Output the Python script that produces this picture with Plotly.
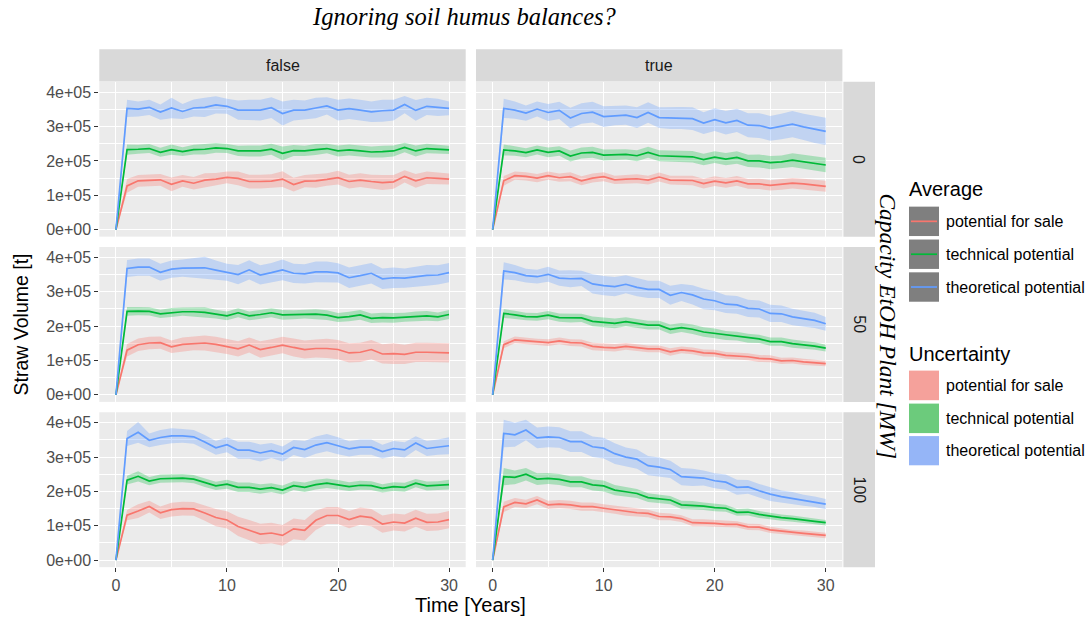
import plotly.graph_objects as go

W, H = 1092, 620
UNIT = 1e5  # values below are stored in units of 1e+05 t

YEARS = list(range(31))
COLUMNS = ["false", "true"]
ROWS = ["0", "50", "100"]
SERIES = ["potential for sale", "technical potential", "theoretical potential"]
LINE_COLORS = ["#F8766D", "#00BA38", "#619CFF"]
RIBBON_COLORS = ["rgba(248,118,109,0.30)", "rgba(0,186,56,0.28)", "rgba(97,156,255,0.30)"]
KEY_FILLS = ["#F5A19B", "#6CCB7C", "#95B5F7"]
Y_TICKS = [0, 1, 2, 3, 4]
Y_TICK_LABELS = ["0e+00", "1e+05", "2e+05", "3e+05", "4e+05"]
Y_MINOR = [0.5, 1.5, 2.5, 3.5]
X_TICKS = [0, 10, 20, 30]
X_TICK_LABELS = ["0", "10", "20", "30"]
X_MINOR = [5, 15, 25]

# ---- averages (1e5 t) ----
F0_SALE = [0, 1.27, 1.42, 1.43, 1.45, 1.32, 1.42, 1.35, 1.44, 1.47, 1.52, 1.49, 1.40, 1.40, 1.41, 1.47, 1.31, 1.41, 1.42, 1.46, 1.51, 1.40, 1.44, 1.40, 1.37, 1.39, 1.55, 1.42, 1.51, 1.49, 1.47]
F0_TECH = [0, 2.33, 2.34, 2.36, 2.25, 2.33, 2.27, 2.33, 2.34, 2.38, 2.36, 2.29, 2.29, 2.29, 2.34, 2.22, 2.30, 2.29, 2.33, 2.36, 2.29, 2.32, 2.29, 2.26, 2.27, 2.29, 2.39, 2.29, 2.36, 2.34, 2.32]
F0_THEO = [0, 3.53, 3.51, 3.56, 3.42, 3.54, 3.44, 3.54, 3.56, 3.63, 3.59, 3.48, 3.48, 3.48, 3.55, 3.38, 3.48, 3.48, 3.54, 3.60, 3.48, 3.52, 3.48, 3.43, 3.46, 3.48, 3.64, 3.47, 3.59, 3.56, 3.53]

T0_SALE = [0, 1.42, 1.57, 1.55, 1.50, 1.57, 1.51, 1.54, 1.42, 1.50, 1.54, 1.45, 1.47, 1.48, 1.44, 1.53, 1.44, 1.44, 1.43, 1.34, 1.41, 1.36, 1.42, 1.33, 1.33, 1.29, 1.31, 1.35, 1.33, 1.29, 1.26]
T0_TECH = [0, 2.32, 2.29, 2.24, 2.32, 2.25, 2.29, 2.14, 2.23, 2.25, 2.17, 2.18, 2.19, 2.15, 2.25, 2.15, 2.14, 2.14, 2.12, 2.04, 2.11, 2.05, 2.10, 2.00, 2.00, 1.95, 1.97, 2.02, 1.97, 1.92, 1.88]
T0_THEO = [0, 3.53, 3.48, 3.39, 3.51, 3.41, 3.47, 3.25, 3.38, 3.42, 3.29, 3.32, 3.33, 3.26, 3.41, 3.26, 3.25, 3.25, 3.23, 3.10, 3.20, 3.11, 3.18, 3.04, 3.03, 2.95, 3.00, 3.07, 2.99, 2.92, 2.86]

F50_SALE = [0, 1.30, 1.46, 1.51, 1.52, 1.40, 1.47, 1.50, 1.51, 1.47, 1.41, 1.34, 1.45, 1.32, 1.38, 1.45, 1.38, 1.32, 1.35, 1.35, 1.32, 1.22, 1.24, 1.32, 1.19, 1.20, 1.18, 1.24, 1.24, 1.24, 1.22]
F50_TECH = [0, 2.43, 2.44, 2.43, 2.36, 2.40, 2.42, 2.42, 2.40, 2.35, 2.30, 2.39, 2.30, 2.34, 2.39, 2.33, 2.33, 2.35, 2.35, 2.32, 2.25, 2.28, 2.33, 2.23, 2.25, 2.24, 2.26, 2.29, 2.30, 2.27, 2.34]
F50_THEO = [0, 3.68, 3.72, 3.72, 3.57, 3.66, 3.69, 3.70, 3.70, 3.63, 3.57, 3.50, 3.64, 3.49, 3.56, 3.64, 3.54, 3.52, 3.58, 3.58, 3.55, 3.41, 3.47, 3.54, 3.38, 3.41, 3.40, 3.44, 3.48, 3.49, 3.56]

T50_SALE = [0, 1.46, 1.60, 1.57, 1.54, 1.52, 1.57, 1.52, 1.51, 1.41, 1.38, 1.37, 1.41, 1.37, 1.34, 1.34, 1.25, 1.31, 1.28, 1.22, 1.21, 1.15, 1.13, 1.11, 1.06, 1.05, 0.99, 1.00, 0.96, 0.93, 0.91]
T50_TECH = [0, 2.37, 2.33, 2.28, 2.27, 2.32, 2.25, 2.24, 2.24, 2.14, 2.11, 2.08, 2.13, 2.07, 2.03, 2.03, 1.91, 1.96, 1.91, 1.83, 1.79, 1.73, 1.71, 1.65, 1.63, 1.55, 1.55, 1.49, 1.46, 1.42, 1.36]
T50_THEO = [0, 3.61, 3.56, 3.47, 3.44, 3.51, 3.40, 3.38, 3.39, 3.23, 3.18, 3.15, 3.22, 3.13, 3.07, 3.07, 2.90, 2.98, 2.91, 2.79, 2.74, 2.64, 2.62, 2.52, 2.50, 2.37, 2.36, 2.27, 2.22, 2.17, 2.07]

F100_SALE = [0, 1.31, 1.43, 1.56, 1.38, 1.47, 1.50, 1.49, 1.37, 1.24, 1.17, 0.98, 0.87, 0.76, 0.79, 0.72, 0.91, 0.87, 1.16, 1.30, 1.30, 1.18, 1.28, 1.24, 1.05, 1.11, 1.08, 1.22, 1.10, 1.11, 1.18]
F100_TECH = [0, 2.33, 2.44, 2.30, 2.37, 2.39, 2.39, 2.36, 2.25, 2.16, 2.21, 2.12, 2.12, 2.07, 2.11, 2.04, 2.17, 2.12, 2.20, 2.24, 2.19, 2.14, 2.18, 2.17, 2.09, 2.14, 2.12, 2.24, 2.16, 2.17, 2.20]
F100_THEO = [0, 3.54, 3.72, 3.49, 3.57, 3.62, 3.62, 3.59, 3.44, 3.27, 3.36, 3.20, 3.20, 3.12, 3.19, 3.09, 3.28, 3.22, 3.35, 3.42, 3.33, 3.24, 3.29, 3.29, 3.16, 3.25, 3.21, 3.41, 3.25, 3.29, 3.33]

T100_SALE = [0, 1.55, 1.68, 1.64, 1.75, 1.61, 1.63, 1.61, 1.56, 1.56, 1.51, 1.47, 1.41, 1.38, 1.36, 1.27, 1.26, 1.21, 1.09, 1.09, 1.07, 1.04, 1.04, 0.97, 0.96, 0.88, 0.84, 0.80, 0.78, 0.75, 0.72]
T100_TECH = [0, 2.43, 2.41, 2.50, 2.36, 2.38, 2.35, 2.28, 2.28, 2.19, 2.16, 2.04, 1.99, 1.94, 1.82, 1.78, 1.75, 1.61, 1.60, 1.57, 1.53, 1.51, 1.39, 1.40, 1.33, 1.28, 1.24, 1.21, 1.18, 1.13, 1.09]
T100_THEO = [0, 3.69, 3.65, 3.79, 3.56, 3.59, 3.57, 3.45, 3.45, 3.30, 3.26, 3.10, 3.00, 2.94, 2.75, 2.71, 2.64, 2.43, 2.41, 2.39, 2.31, 2.27, 2.12, 2.13, 2.02, 1.92, 1.85, 1.80, 1.74, 1.70, 1.63]

# ---- uncertainty half-widths (1e5 t) ----
F0_SALE_HW = [0, 0.20, 0.17, 0.17, 0.17, 0.20, 0.17, 0.18, 0.20, 0.18, 0.17, 0.20, 0.20, 0.20, 0.20, 0.23, 0.20, 0.18, 0.20, 0.18, 0.20, 0.20, 0.20, 0.20, 0.22, 0.20, 0.18, 0.20, 0.18, 0.18, 0.16]
F0_TECH_HW = [0, 0.15, 0.13, 0.13, 0.13, 0.15, 0.13, 0.14, 0.15, 0.14, 0.13, 0.15, 0.16, 0.16, 0.16, 0.20, 0.16, 0.15, 0.16, 0.14, 0.16, 0.16, 0.16, 0.16, 0.17, 0.16, 0.14, 0.16, 0.14, 0.14, 0.12]
F0_THEO_HW = [0, 0.25, 0.22, 0.22, 0.22, 0.30, 0.22, 0.25, 0.28, 0.25, 0.22, 0.28, 0.30, 0.30, 0.30, 0.35, 0.30, 0.28, 0.30, 0.25, 0.30, 0.30, 0.30, 0.30, 0.32, 0.30, 0.25, 0.30, 0.25, 0.25, 0.20]

T0_SALE_HW = [0, 0.14, 0.12, 0.12, 0.12, 0.12, 0.12, 0.13, 0.13, 0.13, 0.13, 0.12, 0.12, 0.13, 0.13, 0.13, 0.13, 0.13, 0.14, 0.14, 0.14, 0.14, 0.14, 0.14, 0.15, 0.15, 0.15, 0.15, 0.15, 0.16, 0.16]
T0_TECH_HW = [0, 0.16, 0.14, 0.13, 0.13, 0.14, 0.14, 0.16, 0.16, 0.16, 0.16, 0.15, 0.15, 0.16, 0.16, 0.16, 0.17, 0.17, 0.17, 0.17, 0.17, 0.18, 0.18, 0.18, 0.19, 0.19, 0.19, 0.20, 0.20, 0.21, 0.21]
T0_THEO_HW = [0, 0.28, 0.25, 0.22, 0.22, 0.25, 0.25, 0.30, 0.30, 0.30, 0.30, 0.28, 0.28, 0.30, 0.30, 0.30, 0.32, 0.32, 0.33, 0.32, 0.33, 0.34, 0.34, 0.35, 0.36, 0.36, 0.37, 0.38, 0.38, 0.40, 0.40]

F50_SALE_HW = [0, 0.18, 0.18, 0.18, 0.18, 0.18, 0.20, 0.20, 0.22, 0.22, 0.22, 0.22, 0.22, 0.24, 0.24, 0.24, 0.26, 0.26, 0.26, 0.28, 0.28, 0.28, 0.28, 0.28, 0.28, 0.30, 0.28, 0.28, 0.28, 0.28, 0.28]
F50_TECH_HW = [0, 0.13, 0.12, 0.12, 0.12, 0.13, 0.12, 0.13, 0.15, 0.13, 0.13, 0.13, 0.13, 0.13, 0.13, 0.14, 0.13, 0.13, 0.14, 0.14, 0.13, 0.14, 0.14, 0.14, 0.14, 0.14, 0.13, 0.14, 0.14, 0.13, 0.13]
F50_THEO_HW = [0, 0.25, 0.25, 0.25, 0.25, 0.25, 0.25, 0.28, 0.32, 0.28, 0.25, 0.28, 0.28, 0.28, 0.28, 0.30, 0.28, 0.28, 0.30, 0.30, 0.28, 0.30, 0.30, 0.30, 0.30, 0.30, 0.28, 0.30, 0.30, 0.28, 0.28]

T50_SALE_HW = [0, 0.10, 0.10, 0.09, 0.09, 0.10, 0.10, 0.10, 0.10, 0.11, 0.11, 0.11, 0.10, 0.10, 0.10, 0.10, 0.11, 0.10, 0.10, 0.10, 0.10, 0.10, 0.10, 0.10, 0.10, 0.10, 0.09, 0.09, 0.09, 0.09, 0.08]
T50_TECH_HW = [0, 0.13, 0.12, 0.11, 0.11, 0.12, 0.12, 0.13, 0.12, 0.14, 0.14, 0.14, 0.13, 0.13, 0.13, 0.13, 0.14, 0.13, 0.14, 0.14, 0.14, 0.13, 0.13, 0.13, 0.12, 0.12, 0.12, 0.12, 0.12, 0.11, 0.10]
T50_THEO_HW = [0, 0.25, 0.22, 0.20, 0.20, 0.22, 0.22, 0.25, 0.22, 0.28, 0.28, 0.28, 0.26, 0.26, 0.25, 0.25, 0.28, 0.25, 0.28, 0.30, 0.28, 0.26, 0.26, 0.25, 0.25, 0.25, 0.24, 0.24, 0.24, 0.22, 0.20]

F100_SALE_HW = [0, 0.15, 0.20, 0.17, 0.18, 0.20, 0.20, 0.20, 0.22, 0.25, 0.25, 0.28, 0.30, 0.30, 0.30, 0.30, 0.30, 0.30, 0.28, 0.25, 0.25, 0.25, 0.25, 0.25, 0.25, 0.25, 0.25, 0.25, 0.25, 0.25, 0.25]
F100_TECH_HW = [0, 0.13, 0.15, 0.12, 0.12, 0.12, 0.12, 0.12, 0.12, 0.12, 0.13, 0.14, 0.14, 0.14, 0.13, 0.13, 0.13, 0.14, 0.14, 0.14, 0.14, 0.13, 0.13, 0.13, 0.12, 0.13, 0.13, 0.12, 0.13, 0.13, 0.14]
F100_THEO_HW = [0, 0.22, 0.30, 0.20, 0.22, 0.22, 0.20, 0.20, 0.20, 0.20, 0.22, 0.25, 0.25, 0.25, 0.22, 0.22, 0.22, 0.25, 0.25, 0.25, 0.25, 0.22, 0.22, 0.22, 0.20, 0.22, 0.22, 0.20, 0.22, 0.22, 0.25]

T100_SALE_HW = [0, 0.15, 0.13, 0.12, 0.12, 0.12, 0.12, 0.12, 0.12, 0.12, 0.12, 0.12, 0.12, 0.11, 0.11, 0.11, 0.10, 0.10, 0.10, 0.10, 0.10, 0.09, 0.09, 0.09, 0.09, 0.09, 0.08, 0.08, 0.08, 0.08, 0.08]
T100_TECH_HW = [0, 0.25, 0.20, 0.18, 0.17, 0.16, 0.16, 0.16, 0.16, 0.16, 0.16, 0.15, 0.14, 0.13, 0.13, 0.13, 0.12, 0.12, 0.12, 0.11, 0.11, 0.10, 0.10, 0.10, 0.10, 0.09, 0.09, 0.09, 0.08, 0.08, 0.08]
T100_THEO_HW = [0, 0.40, 0.35, 0.30, 0.30, 0.30, 0.30, 0.30, 0.30, 0.30, 0.30, 0.30, 0.28, 0.28, 0.28, 0.28, 0.25, 0.25, 0.25, 0.22, 0.22, 0.22, 0.22, 0.20, 0.20, 0.20, 0.18, 0.18, 0.16, 0.15, 0.15]

PANELS = {
    ("false", "0"): ([F0_SALE, F0_TECH, F0_THEO], [F0_SALE_HW, F0_TECH_HW, F0_THEO_HW]),
    ("true", "0"): ([T0_SALE, T0_TECH, T0_THEO], [T0_SALE_HW, T0_TECH_HW, T0_THEO_HW]),
    ("false", "50"): ([F50_SALE, F50_TECH, F50_THEO], [F50_SALE_HW, F50_TECH_HW, F50_THEO_HW]),
    ("true", "50"): ([T50_SALE, T50_TECH, T50_THEO], [T50_SALE_HW, T50_TECH_HW, T50_THEO_HW]),
    ("false", "100"): ([F100_SALE, F100_TECH, F100_THEO], [F100_SALE_HW, F100_TECH_HW, F100_THEO_HW]),
    ("true", "100"): ([T100_SALE, T100_TECH, T100_THEO], [T100_SALE_HW, T100_TECH_HW, T100_THEO_HW]),
}

# ---- geometry (pixels) ----
COL_X = [(99.3, 465.7), (476.0, 842.4)]
ROW_Y = [(82.0, 237.4), (247.8, 403.2), (413.6, 569.0)]
STRIP_TOP = (49.3, 81.7)
STRIP_RIGHT = (843.4, 875.0)
X_RANGE = [-1.5, 31.5]
Y_RANGE = [-0.205 * UNIT, 4.305 * UNIT]

SANS = "Liberation Sans, Arial, sans-serif"
SERIF = "Liberation Serif, Times New Roman, serif"


def px(x):
    return x / W


def py(y):
    return 1 - y / H


fig = go.Figure()
layout = {}
annotations = []
shapes = []

for i, row in enumerate(ROWS):
    for j, col in enumerate(COLUMNS):
        k = i * 2 + j + 1
        xa = "x" if k == 1 else f"x{k}"
        ya = "y" if k == 1 else f"y{k}"
        means, hws = PANELS[(col, row)]
        for s in range(3):
            upper = [(m + h) * UNIT for m, h in zip(means[s], hws[s])]
            lower = [(m - h) * UNIT for m, h in zip(means[s], hws[s])]
            fig.add_trace(go.Scatter(
                x=YEARS + YEARS[::-1], y=upper + lower[::-1],
                fill="toself", fillcolor=RIBBON_COLORS[s], line=dict(width=0),
                mode="lines", hoverinfo="skip", showlegend=False, xaxis=xa, yaxis=ya))
        for s in range(3):
            fig.add_trace(go.Scatter(
                x=YEARS, y=[m * UNIT for m in means[s]], mode="lines",
                line=dict(color=LINE_COLORS[s], width=1.7), name=SERIES[s],
                showlegend=False, xaxis=xa, yaxis=ya))

        x0, x1 = COL_X[j]
        y0, y1 = ROW_Y[i]
        bottom = i == len(ROWS) - 1
        left = j == 0
        layout["xaxis" if k == 1 else f"xaxis{k}"] = dict(
            domain=[px(x0), px(x1)], anchor=ya, range=X_RANGE,
            tickmode="array", tickvals=X_TICKS, ticktext=X_TICK_LABELS,
            showticklabels=bottom, ticks="outside" if bottom else "",
            ticklen=4, tickwidth=1.1, tickcolor="#333333",
            tickfont=dict(family=SANS, size=16, color="#4D4D4D"),
            showgrid=True, gridcolor="#FFFFFF", gridwidth=1.2, zeroline=False, showline=False,
            minor=dict(tickvals=X_MINOR, showgrid=True, gridcolor="#FFFFFF", gridwidth=0.6, ticks=""),
            fixedrange=True)
        layout["yaxis" if k == 1 else f"yaxis{k}"] = dict(
            domain=[py(y1), py(y0)], anchor=xa, range=Y_RANGE,
            tickmode="array", tickvals=[t * UNIT for t in Y_TICKS], ticktext=Y_TICK_LABELS,
            showticklabels=left, ticks="outside" if left else "",
            ticklen=4, tickwidth=1.1, tickcolor="#333333",
            tickfont=dict(family=SANS, size=16, color="#4D4D4D"),
            showgrid=True, gridcolor="#FFFFFF", gridwidth=1.2, zeroline=False, showline=False,
            minor=dict(tickvals=[t * UNIT for t in Y_MINOR], showgrid=True, gridcolor="#FFFFFF",
                       gridwidth=0.6, ticks=""),
            fixedrange=True)

# column strips
for j, col in enumerate(COLUMNS):
    x0, x1 = COL_X[j]
    shapes.append(dict(type="rect", xref="paper", yref="paper", x0=px(x0), x1=px(x1),
                       y0=py(STRIP_TOP[1]), y1=py(STRIP_TOP[0]), fillcolor="#D9D9D9", line=dict(width=0)))
    annotations.append(dict(text=col, xref="paper", yref="paper", x=px((x0 + x1) / 2),
                            y=py(sum(STRIP_TOP) / 2), showarrow=False, xanchor="center", yanchor="middle",
                            font=dict(family=SANS, size=16, color="#1A1A1A")))
# row strips
for i, row in enumerate(ROWS):
    y0, y1 = ROW_Y[i]
    shapes.append(dict(type="rect", xref="paper", yref="paper", x0=px(STRIP_RIGHT[0]), x1=px(STRIP_RIGHT[1]),
                       y0=py(y1), y1=py(y0), fillcolor="#D9D9D9", line=dict(width=0)))
    annotations.append(dict(text=row, xref="paper", yref="paper", x=px(sum(STRIP_RIGHT) / 2),
                            y=py((y0 + y1) / 2), showarrow=False, xanchor="center", yanchor="middle",
                            textangle=90, font=dict(family=SANS, size=16, color="#1A1A1A")))

mid_x = (COL_X[0][0] + COL_X[1][1]) / 2
mid_y = (ROW_Y[0][0] + ROW_Y[2][1]) / 2
annotations += [
    dict(text="Ignoring soil humus balances?", xref="paper", yref="paper", x=px(mid_x - 6), y=py(17),
         showarrow=False, xanchor="center", yanchor="middle",
         font=dict(family=SERIF, size=24.5, color="#000000", style="italic")),
    dict(text="Capacity EtOH Plant [MW]", xref="paper", yref="paper", x=px(888), y=py(mid_y + 2),
         showarrow=False, xanchor="center", yanchor="middle", textangle=90,
         font=dict(family=SERIF, size=23.5, color="#000000", style="italic")),
    dict(text="Straw Volume [t]", xref="paper", yref="paper", x=px(21), y=py(mid_y),
         showarrow=False, xanchor="center", yanchor="middle", textangle=-90,
         font=dict(family=SANS, size=19.5, color="#000000")),
    dict(text="Time [Years]", xref="paper", yref="paper", x=px(mid_x), y=py(607),
         showarrow=False, xanchor="center", yanchor="middle",
         font=dict(family=SANS, size=20, color="#000000")),
]

# ---- legends (drawn manually, ggplot-like keys) ----
KEY_X = (909.0, 939.0)
LABEL_X = 944.0
AVG_KEYS = [(207.3, 236.8), (240.3, 269.8), (273.2, 302.7)]
UNC_KEYS = [(371.8, 401.5), (404.9, 434.5), (437.5, 466.8)]
annotations.append(dict(text="Average", xref="paper", yref="paper", x=px(907.0), y=py(190),
                        showarrow=False, xanchor="left", yanchor="middle",
                        font=dict(family=SANS, size=20, color="#000000")))
annotations.append(dict(text="Uncertainty", xref="paper", yref="paper", x=px(907.0), y=py(355),
                        showarrow=False, xanchor="left", yanchor="middle",
                        font=dict(family=SANS, size=20, color="#000000")))
for s in range(3):
    a0, a1 = AVG_KEYS[s]
    shapes.append(dict(type="rect", xref="paper", yref="paper", x0=px(KEY_X[0]), x1=px(KEY_X[1]),
                       y0=py(a1), y1=py(a0), fillcolor="#7F7F7F", line=dict(width=0)))
    shapes.append(dict(type="line", xref="paper", yref="paper", x0=px(KEY_X[0] + 2), x1=px(KEY_X[1] - 2),
                       y0=py((a0 + a1) / 2), y1=py((a0 + a1) / 2), line=dict(color=LINE_COLORS[s], width=1.7)))
    annotations.append(dict(text=SERIES[s], xref="paper", yref="paper", x=px(LABEL_X), y=py((a0 + a1) / 2),
                            showarrow=False, xanchor="left", yanchor="middle",
                            font=dict(family=SANS, size=16, color="#000000")))
    u0, u1 = UNC_KEYS[s]
    shapes.append(dict(type="rect", xref="paper", yref="paper", x0=px(KEY_X[0]), x1=px(KEY_X[1]),
                       y0=py(u1), y1=py(u0), fillcolor=KEY_FILLS[s], line=dict(width=0)))
    annotations.append(dict(text=SERIES[s], xref="paper", yref="paper", x=px(LABEL_X), y=py((u0 + u1) / 2),
                            showarrow=False, xanchor="left", yanchor="middle",
                            font=dict(family=SANS, size=16, color="#000000")))

fig.update_layout(
    width=W, height=H, margin=dict(l=0, r=0, t=0, b=0),
    paper_bgcolor="#FFFFFF", plot_bgcolor="#EBEBEB",
    showlegend=False, annotations=annotations, shapes=shapes,
    font=dict(family=SANS), **layout)

fig.write_html("out.html")
